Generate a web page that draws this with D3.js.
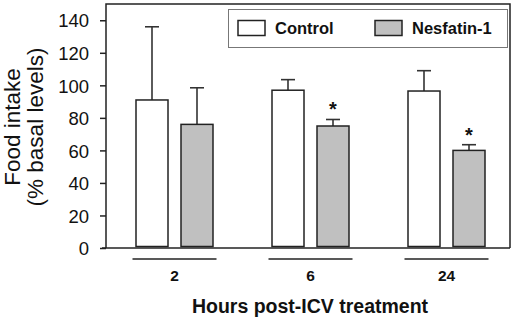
<!DOCTYPE html>
<html><head><meta charset="utf-8">
<script src="https://cdn.jsdelivr.net/npm/d3@7/dist/d3.min.js"></script>
<style>body{margin:0;background:#fff}svg{display:block;font-family:"Liberation Sans",Arial,sans-serif}</style>
</head><body><svg id="c" width="517" height="318"></svg>
<script>
const categories = ["2", "6", "24"];
const seriesNames = ["Control", "Nesfatin-1"];
const controlMean = [91, 97, 96.5];
const controlErr = [45, 6.5, 12.5];
const nesfatinMean = [76, 75, 60];
const nesfatinErr = [22.5, 4, 3.5];
const significant = [[false, false], [false, true], [false, true]];
const yTicks = [0, 20, 40, 60, 80, 100, 120, 140];

const svg = d3.select("#c");
const L = 106, R = 510, T = 4, B = 248;
const y = d3.scaleLinear().domain([0, 150]).range([B, T]);
const xc = d3.scalePoint().domain(categories).range([174.5, 446.5]);
const barW = 32, gap = 13;
const fills = ["#ffffff", "#c0c0c0"];
const means = [controlMean, nesfatinMean];
const errs = [controlErr, nesfatinErr];

// frame
svg.append("path").attr("d", `M${L},${B}V${T}H${R}V${B}`).attr("fill","none").attr("stroke","#222").attr("stroke-width",1.5);
svg.append("line").attr("x1",102).attr("x2",R).attr("y1",B).attr("y2",B).attr("stroke","#222").attr("stroke-width",1.5);

// y axis
const yAxis = d3.axisLeft(y).tickValues(yTicks).tickSize(6).tickPadding(11);
const gy = svg.append("g").attr("transform",`translate(${L},0)`).call(yAxis);
gy.attr("font-size", 18.5).attr("font-family","Liberation Sans, Arial");
gy.select(".domain").remove();
gy.selectAll(".tick line").attr("stroke","#222").attr("stroke-width",1.5);
gy.selectAll(".tick text").attr("fill","#111").attr("dy","0.36em");

// bars
categories.forEach((c, i) => {
  [0,1].forEach(s => {
    const cx = xc(c) + (s === 0 ? -(gap/2 + barW/2) : (gap/2 + barW/2));
    const top = y(means[s][i]);
    const errTop = y(means[s][i] + errs[s][i]);
    svg.append("line").attr("x1",cx).attr("x2",cx).attr("y1",top).attr("y2",errTop).attr("stroke","#333").attr("stroke-width",1.6);
    svg.append("line").attr("x1",cx-7).attr("x2",cx+7).attr("y1",errTop).attr("y2",errTop).attr("stroke","#333").attr("stroke-width",1.6);
    svg.append("rect").attr("x",cx-barW/2).attr("y",top).attr("width",barW).attr("height",B-1.5-top)
      .attr("fill",fills[s]).attr("stroke","#222").attr("stroke-width",1.5);
    if (significant[i][s]) {
      svg.append("text").attr("x",cx).attr("y",errTop-3).attr("text-anchor","middle")
        .attr("font-size",20).attr("font-weight","bold").attr("fill","#111").text("*");
    }
  });
  svg.append("line").attr("x1",xc(c)-42).attr("x2",xc(c)+42).attr("y1",259).attr("y2",259).attr("stroke","#222").attr("stroke-width",1.5);
  svg.append("text").attr("x",xc(c)).attr("y",281).attr("text-anchor","middle")
    .attr("font-size",15.5).attr("font-weight","bold").attr("fill","#111").text(c);
});

// axis titles
svg.append("text").attr("x",310).attr("y",313).attr("text-anchor","middle")
  .attr("font-size",19.5).attr("font-weight","bold").attr("fill","#111").text("Hours post-ICV treatment");
const yt = svg.append("text").attr("transform","translate(0,127) rotate(-90)").attr("text-anchor","middle")
  .attr("font-size",22.5).attr("fill","#111");
yt.append("tspan").attr("x",0).attr("y",20).text("Food intake");
yt.append("tspan").attr("x",0).attr("y",43).text("(% basal levels)");

// legend
svg.append("rect").attr("x",228.5).attr("y",9.5).attr("width",279).attr("height",38).attr("fill","#fff").attr("stroke","#777").attr("stroke-width",1);
const legX = [238, 375];
const legTX = [275, 412];
seriesNames.forEach((n, s) => {
  svg.append("rect").attr("x",legX[s]).attr("y",20.5).attr("width",27).attr("height",15).attr("fill",fills[s]).attr("stroke","#222").attr("stroke-width",1.5);
  svg.append("text").attr("x",legTX[s]).attr("y",34).attr("font-size",16.5).attr("font-weight","bold").attr("fill","#111").text(n);
});
</script></body></html>
